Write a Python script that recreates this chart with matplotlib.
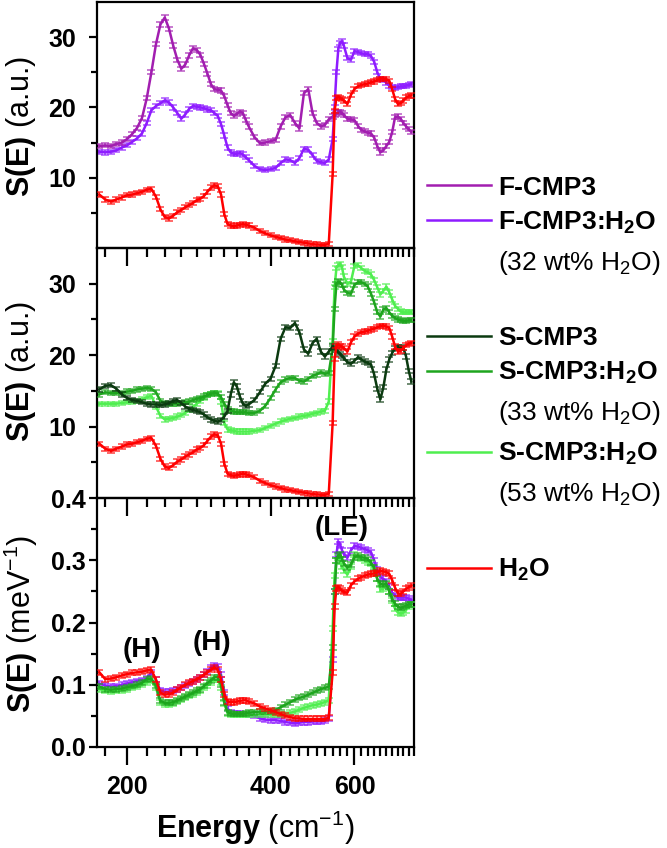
import matplotlib
matplotlib.use('Agg')
import matplotlib.pyplot as plt
from matplotlib.ticker import FixedLocator, NullFormatter, FixedFormatter
from matplotlib.lines import Line2D

plt.rcParams['font.family'] = ['Liberation Sans', 'DejaVu Sans']
plt.rcParams['mathtext.fontset'] = 'custom'
plt.rcParams['mathtext.rm'] = 'Liberation Sans'
plt.rcParams['mathtext.bf'] = 'Liberation Sans:bold'
plt.rcParams['mathtext.it'] = 'Liberation Sans:italic'

# ---------------- data ----------------
energy = [175, 180, 185, 190, 195, 200, 205, 210, 215, 220,
          225, 230, 235, 240, 245, 250, 255, 260, 265, 270,
          275, 280, 285, 290, 295, 300, 305, 310, 315, 320,
          325, 330, 335, 340, 345, 350, 355, 360,
          370, 380, 390, 400, 410, 420, 430, 440, 450, 460, 470, 480, 490, 500, 510, 520, 530,
          540, 545, 550, 555, 560, 565, 570,
          580, 590, 600, 610, 620, 630, 640, 650, 660, 670, 680, 690, 700, 710, 720, 730, 740, 750,
          760, 770, 780, 790]

f_cmp3 = [14.5, 14.6, 14.5, 14.8, 15.0, 15.5, 16.2, 17.1, 18.5, 21.3,
          25.0, 29.0, 31.8, 32.8, 31.2, 28.8, 26.8, 25.5, 26.1, 27.4,
          28.4, 28.2, 27.5, 26.2, 24.8, 23.3, 22.6, 22.5, 22.4, 21.6,
          20.3, 19.2, 18.8, 19.1, 19.4, 19.2, 18.2, 17.3,
          15.8, 14.9, 15.0, 15.2, 15.4, 17.3, 18.6, 18.9, 17.8, 17.0, 22.0, 22.6, 19.2, 17.8, 17.3, 17.5, 18.3,
          18.7, 18.9, 19.1, 19.3, 19.4, 19.2, 18.9,
          18.4, 18.3, 18.2, 17.4, 16.8, 16.6, 16.4, 16.3, 15.7, 14.5, 13.6, 13.9, 14.5, 15.1, 16.5, 18.6,
          18.7, 18.4, 17.8, 17.3, 16.9, 16.5]

f_cmp3_h2o = [13.7, 13.6, 13.7, 13.9, 14.3, 14.6, 15.1, 15.6, 16.3, 17.8,
              19.6, 20.2, 20.6, 21.0, 20.7, 20.0, 19.2, 18.4, 19.0, 19.8,
              20.2, 20.1, 20.0, 19.9, 19.7, 19.6, 19.2, 18.8, 17.6, 16.0,
              14.3, 13.6, 13.4, 13.4, 13.5, 13.3, 12.9, 12.5,
              11.7, 11.2, 11.1, 11.2, 11.4, 12.1, 12.6, 12.5, 12.1, 12.8, 14.1, 14.0, 13.2, 12.4, 12.2, 12.1, 12.6,
              15.5, 20.0, 25.0, 28.3, 29.2, 29.4, 28.8,
              27.0, 26.8, 28.0, 27.9, 27.7, 27.6, 27.6, 27.3, 26.5, 25.0, 24.0, 23.9, 23.5, 23.1, 22.9, 22.8,
              22.9, 23.0, 23.0, 23.1, 23.2, 23.3]

h2o_au = [7.6, 6.9, 6.6, 6.9, 7.2, 7.5, 7.6, 7.8, 8.0, 8.3,
          8.4, 7.3, 5.5, 4.4, 4.2, 4.6, 5.1, 5.4, 5.8, 6.1,
          6.4, 6.8, 7.0, 7.4, 8.0, 8.6, 8.9, 8.8, 7.6, 4.8,
          3.4, 3.2, 3.1, 3.2, 3.3, 3.4, 3.3, 3.2,
          2.9, 2.4, 2.1, 1.8, 1.6, 1.4, 1.2, 1.1, 0.95, 0.85, 0.75, 0.65, 0.55, 0.5, 0.45, 0.45, 0.6,
          10.5, 19.5, 21.3, 21.5, 21.3, 21.2, 21.0,
          20.5, 21.8, 22.6, 23.0, 23.2, 23.3, 23.4, 23.6, 23.7, 23.9, 24.1, 24.1, 24.0, 23.8, 22.6, 21.2,
          20.5, 20.6, 21.0, 21.4, 21.6, 21.7]

s_cmp3 = [15.2, 15.7, 15.8, 15.3, 14.5, 14.0, 13.7, 13.6, 13.4, 13.2,
          13.1, 13.1, 13.0, 13.1, 13.3, 13.6, 13.7, 13.3, 12.8, 12.5,
          12.3, 12.2, 12.0, 11.7, 11.3, 11.0, 10.8, 10.7, 10.9, 11.4,
          12.2, 14.5, 16.2, 15.6, 14.2, 13.2, 12.9, 13.1,
          13.7, 14.8, 16.0, 16.7, 18.5, 22.3, 23.9, 23.8, 24.5, 23.2, 20.8, 20.2, 21.7, 22.3, 20.5, 19.8, 20.5,
          21.2, 21.0, 20.7, 20.4, 20.2, 19.9, 19.6,
          19.0, 18.8, 19.2, 19.7, 19.4, 19.1, 18.9, 18.7, 17.3, 15.3, 13.8, 15.5, 18.0, 19.4, 20.3, 21.0,
          21.1, 21.1, 21.0, 19.8, 17.8, 16.3]

s_cmp3_h2o_33 = [14.5, 14.8, 14.7, 14.7, 14.7, 14.9, 15.0, 15.2, 15.3, 15.4,
                 15.3, 14.8, 13.6, 13.3, 13.2, 13.2, 13.2, 13.3, 13.4, 13.5,
                 13.7, 13.9, 14.0, 14.2, 14.4, 14.6, 14.7, 14.6, 14.1, 13.2,
                 12.5, 12.2, 12.1, 12.0, 12.0, 12.0, 12.0, 11.9,
                 11.9, 12.2, 12.9, 14.0, 15.2, 16.2, 16.6, 16.8, 16.8, 16.4, 16.3, 16.7, 17.1, 17.3, 17.6, 17.4, 17.5,
                 21.0, 26.5, 30.0, 30.3, 30.2, 29.8, 29.2,
                 28.7, 28.6, 29.8, 30.2, 30.2, 30.0, 29.6, 28.6, 27.4, 26.0, 25.4, 26.4, 26.6, 26.0, 25.5, 25.2,
                 25.0, 24.9, 24.8, 24.8, 24.9, 24.9]

s_cmp3_h2o_53 = [13.2, 13.2, 13.2, 13.2, 13.3, 13.4, 13.5, 13.6, 13.8, 14.1,
                 14.3, 12.8, 11.5, 11.0, 11.1, 11.2, 11.4, 11.6, 11.9, 12.3,
                 12.7, 13.2, 13.6, 14.0, 14.4, 14.6, 14.7, 14.7, 13.5, 10.5,
                 9.6, 9.5, 9.4, 9.3, 9.3, 9.3, 9.3, 9.3,
                 9.4, 9.5, 9.8, 10.1, 10.4, 10.7, 10.9, 11.1, 11.2, 11.4, 11.5, 11.6, 11.8, 11.9, 12.1, 12.2, 13.5,
                 22.0, 29.5, 32.2, 32.6, 32.8, 32.3, 31.0,
                 30.0, 30.3, 32.5, 32.6, 32.2, 31.8, 31.6, 31.3, 30.5, 29.5, 28.5, 29.0, 29.6, 28.8, 27.8, 26.9,
                 26.5, 26.1, 26.0, 26.0, 26.0, 26.0]

# bottom panel, S(E) in meV^-1
h2o_mev = [0.120, 0.109, 0.110, 0.112, 0.115, 0.117, 0.119, 0.120, 0.121, 0.123,
           0.124, 0.108, 0.087, 0.084, 0.085, 0.087, 0.092, 0.096, 0.100, 0.103,
           0.106, 0.109, 0.112, 0.116, 0.120, 0.124, 0.128, 0.124, 0.108, 0.085,
           0.073, 0.072, 0.072, 0.073, 0.074, 0.075, 0.075, 0.073,
           0.070, 0.065, 0.062, 0.059, 0.056, 0.053, 0.050, 0.048, 0.046, 0.046, 0.045, 0.045, 0.045, 0.045,
           0.045, 0.045, 0.047,
           0.120, 0.225, 0.255, 0.257, 0.254, 0.251, 0.249,
           0.248, 0.260, 0.266, 0.270, 0.273, 0.275, 0.277, 0.278, 0.279, 0.281, 0.283, 0.282, 0.281, 0.278,
           0.268, 0.256, 0.247, 0.246, 0.250, 0.254, 0.257, 0.259]

f_cmp3_h2o_mev = [0.102, 0.099, 0.097, 0.098, 0.100, 0.102, 0.104, 0.106, 0.107, 0.110,
                  0.120, 0.108, 0.090, 0.089, 0.089, 0.090, 0.093, 0.096, 0.099, 0.102,
                  0.105, 0.108, 0.111, 0.116, 0.121, 0.128, 0.131, 0.130, 0.116, 0.088,
                  0.062, 0.056, 0.054, 0.054, 0.054, 0.053, 0.053, 0.052,
                  0.050, 0.046, 0.044, 0.043, 0.043, 0.042, 0.040, 0.039, 0.038, 0.039, 0.040, 0.040, 0.041,
                  0.041, 0.041, 0.042, 0.046,
                  0.140, 0.250, 0.310, 0.330, 0.325, 0.316, 0.310,
                  0.304, 0.316, 0.323, 0.322, 0.320, 0.318, 0.316, 0.313, 0.300, 0.285, 0.273, 0.270, 0.266,
                  0.258, 0.248, 0.243, 0.240, 0.240, 0.240, 0.240, 0.238, 0.236]

s_cmp3_h2o_33_mev = [0.097, 0.093, 0.092, 0.093, 0.094, 0.096, 0.098, 0.100, 0.103, 0.109,
                     0.110, 0.098, 0.074, 0.071, 0.071, 0.072, 0.075, 0.078, 0.081, 0.084,
                     0.087, 0.090, 0.093, 0.098, 0.103, 0.107, 0.112, 0.112, 0.100, 0.072,
                     0.056, 0.054, 0.053, 0.053, 0.053, 0.053, 0.054, 0.055,
                     0.056, 0.057, 0.057, 0.057, 0.059, 0.064, 0.068, 0.072, 0.076, 0.079, 0.081, 0.084, 0.087,
                     0.090, 0.093, 0.095, 0.097,
                     0.160, 0.250, 0.300, 0.308, 0.310, 0.302, 0.295,
                     0.288, 0.293, 0.305, 0.307, 0.305, 0.304, 0.302, 0.296, 0.288, 0.270, 0.262, 0.261, 0.262,
                     0.250, 0.238, 0.230, 0.225, 0.224, 0.225, 0.227, 0.229, 0.229]

s_cmp3_h2o_53_mev = [0.093, 0.090, 0.089, 0.090, 0.091, 0.093, 0.095, 0.097, 0.100, 0.104,
                     0.107, 0.095, 0.072, 0.069, 0.069, 0.070, 0.073, 0.076, 0.079, 0.082,
                     0.085, 0.088, 0.091, 0.095, 0.099, 0.104, 0.108, 0.108, 0.096, 0.070,
                     0.054, 0.052, 0.052, 0.052, 0.052, 0.052, 0.052, 0.052,
                     0.052, 0.052, 0.052, 0.052, 0.052, 0.052, 0.053, 0.055, 0.057, 0.060, 0.063, 0.065, 0.067,
                     0.068, 0.070, 0.072, 0.075,
                     0.190, 0.275, 0.300, 0.304, 0.298, 0.290, 0.284,
                     0.277, 0.290, 0.309, 0.305, 0.302, 0.300, 0.297, 0.294, 0.284, 0.270, 0.253, 0.254, 0.261,
                     0.250, 0.235, 0.222, 0.216, 0.215, 0.216, 0.220, 0.226, 0.229]

err_au = 0.3
err_mev = 0.004

x_major = [200, 400, 600]
x_major_labels = ['200', '400', '600']
x_minor = [180, 220, 240, 260, 280, 300, 320, 340, 360, 380,
           420, 440, 460, 480, 500, 520, 540, 560, 580,
           620, 640, 660, 680, 700, 720, 740, 760, 780, 800]

c_f = '#A21EB0'
c_fw = '#8E1CFF'
c_h2o = '#FF0000'
c_s = '#0B3A10'
c_s33 = '#1EA51E'
c_s53 = '#4FEE4F'

# ---------------- figure ----------------
W, H = 667, 848
fig = plt.figure(figsize=(W / 100, H / 100), dpi=100)
fig.patch.set_facecolor('white')

left = 97 / W
width = (414 - 97) / W
ax_top = fig.add_axes([left, 1 - 248 / H, width, (248 - 2) / H])
ax_mid = fig.add_axes([left, 1 - 498 / H, width, 250 / H])
ax_bot = fig.add_axes([left, 1 - 747 / H, width, 249 / H])


def series(ax, y, color, err, z):
    cont = ax.errorbar(energy, y, yerr=err, color=color, lw=1.8, elinewidth=1.1,
                       capsize=3.0, capthick=1.1, zorder=z)
    for art in list(cont[1]) + list(cont[2]):
        art.set_alpha(0.75)


def style(ax, labels, ypad):
    ax.set_xscale('log')
    ax.set_xlim(173, 800)
    ax.xaxis.set_major_locator(FixedLocator(x_major))
    ax.xaxis.set_minor_locator(FixedLocator(x_minor))
    ax.xaxis.set_minor_formatter(NullFormatter())
    if labels:
        ax.xaxis.set_major_formatter(FixedFormatter(x_major_labels))
    else:
        ax.xaxis.set_major_formatter(NullFormatter())
    ax.tick_params(axis='x', which='major', direction='out', length=13, width=1.6,
                   labelsize=18, pad=7)
    ax.tick_params(axis='x', which='minor', direction='out', length=6.5, width=1.6)
    ax.tick_params(axis='y', which='major', direction='out', length=6, width=1.6,
                   labelsize=18, pad=ypad)
    ax.tick_params(axis='y', which='minor', direction='out', length=4, width=1.6)
    for s in ax.spines.values():
        s.set_linewidth(1.6)
    ax.set_facecolor('none')
    for lab in ax.get_xticklabels() + ax.get_yticklabels():
        lab.set_fontweight('bold')


# top panel
series(ax_top, f_cmp3_h2o, c_fw, err_au, 2)
series(ax_top, f_cmp3, c_f, err_au, 3)
series(ax_top, h2o_au, c_h2o, err_au, 4)
ax_top.set_ylim(0, 35)
ax_top.set_yticks([10, 20, 30])
ax_top.set_yticks([5, 15, 25], minor=True)
ax_top.set_yticklabels(['10', '20', '30'])
style(ax_top, False, 9)

# middle panel
series(ax_mid, s_cmp3_h2o_53, c_s53, err_au, 2)
series(ax_mid, s_cmp3_h2o_33, c_s33, err_au, 3)
series(ax_mid, s_cmp3, c_s, err_au, 4)
series(ax_mid, h2o_au, c_h2o, err_au, 5)
ax_mid.set_ylim(0, 35)
ax_mid.set_yticks([10, 20, 30])
ax_mid.set_yticks([5, 15, 25], minor=True)
ax_mid.set_yticklabels(['10', '20', '30'])
style(ax_mid, False, 9)

# bottom panel
series(ax_bot, f_cmp3_h2o_mev, c_fw, err_mev, 2)
series(ax_bot, s_cmp3_h2o_53_mev, c_s53, err_mev, 3)
series(ax_bot, s_cmp3_h2o_33_mev, c_s33, err_mev, 4)
series(ax_bot, h2o_mev, c_h2o, err_mev, 5)
ax_bot.set_ylim(0, 0.4)
ax_bot.set_yticks([0.0, 0.1, 0.2, 0.3, 0.4])
ax_bot.set_yticks([0.05, 0.15, 0.25, 0.35], minor=True)
ax_bot.set_yticklabels(['0.0', '0.1', '0.2', '0.3', '0.4'])
style(ax_bot, True, 2)

ax_bot.text(215, 0.156, '(H)', fontsize=20, fontweight='bold', ha='center', va='center')
ax_bot.text(301, 0.167, '(H)', fontsize=20, fontweight='bold', ha='center', va='center')
ax_bot.text(564, 0.352, '(LE)', fontsize=20, fontweight='bold', ha='center', va='center')

# axis labels
fig.text(21 / W, 1 - 127 / H, r'$\mathbf{S(E)}$ (a.u.)', rotation=90, fontsize=22,
         ha='center', va='center')
fig.text(21 / W, 1 - 372 / H, r'$\mathbf{S(E)}$ (a.u.)', rotation=90, fontsize=22,
         ha='center', va='center')
fig.text(21 / W, 1 - 624 / H, r'$\mathbf{S(E)}$ (meV$^{-1}$)', rotation=90, fontsize=22,
         ha='center', va='center')
fig.text(255 / W, 1 - 838 / H, r'$\mathbf{Energy}$ (cm$^{-1}$)', fontsize=22,
         ha='center', va='baseline')

# legend (manual)
def leg_line(y_px, color):
    fy = 1 - y_px / H
    fig.add_artist(Line2D([427 / W, 491 / W], [fy, fy], color=color, lw=1.8,
                          transform=fig.transFigure))


def leg_text(y_base_px, label, bold=True):
    fig.text(498 / W, 1 - y_base_px / H, label, fontsize=19,
             fontweight='bold' if bold else 'normal', ha='left', va='baseline')


leg_line(185, c_f)
leg_text(195, 'F-CMP3')
leg_line(220, c_fw)
leg_text(230, r'F-CMP3:H$_\mathbf{2}$O')
leg_text(270, r'(32 wt% H$_2$O)', bold=False)

leg_line(336, c_s)
leg_text(345, 'S-CMP3')
leg_line(371, c_s33)
leg_text(380, r'S-CMP3:H$_\mathbf{2}$O')
leg_text(420, r'(33 wt% H$_2$O)', bold=False)
leg_line(452, c_s53)
leg_text(461, r'S-CMP3:H$_\mathbf{2}$O')
leg_text(501, r'(53 wt% H$_2$O)', bold=False)

leg_line(568, c_h2o)
leg_text(577, r'H$_\mathbf{2}$O')

fig.savefig('out.png', dpi=100)
